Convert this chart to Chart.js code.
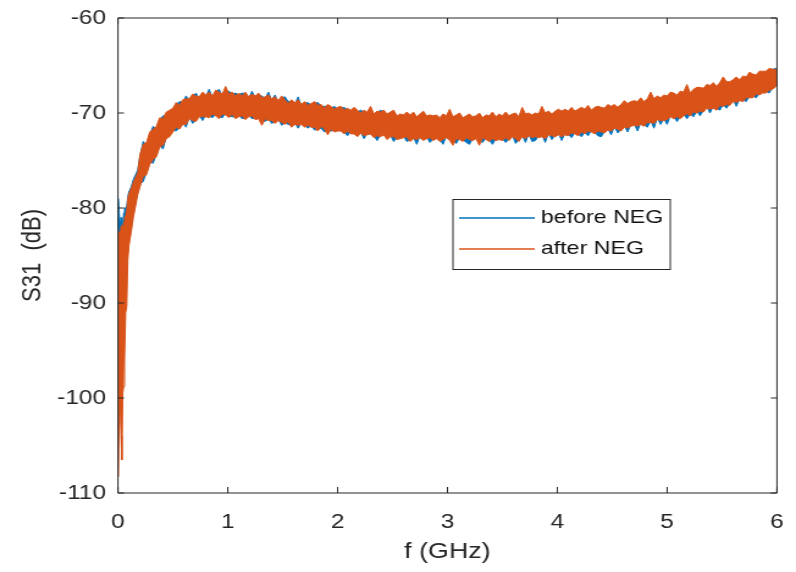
<!DOCTYPE html>
<html>
<head>
<meta charset="utf-8">
<script src="https://cdn.jsdelivr.net/npm/chart.js@4.4.1/dist/chart.umd.min.js"></script>
<style>
  html, body { margin: 0; padding: 0; background: #fff; overflow: hidden; }
  #wrap { width: 796px; height: 572px; overflow: hidden; }
  /* the reference figure is stretched sideways, so the canvas is too */
  #plot { display: block; transform: scale(1.2209, 1); transform-origin: 0 0; }
</style>
</head>
<body>
<div id="wrap"><canvas id="plot" width="652" height="572"></canvas></div>
<script>
// frequency grid (GHz)
const freqGHz = [
  0.004,0.012,0.02,0.028,0.036,0.044,0.052,0.06,0.07,0.08,0.09,0.1,0.12,0.14,0.16,0.18,
  0.2,0.23,0.26,0.29,0.32,0.35,0.38,0.41,0.44,0.47,
  0.5,0.53,0.56,0.59,0.62,0.65,0.68,0.71,0.74,0.77,
  0.8,0.83,0.86,0.89,0.92,0.95,0.98,1.01,1.04,1.07,
  1.1,1.13,1.16,1.19,1.22,1.25,1.28,1.31,1.34,1.37,
  1.4,1.43,1.46,1.49,1.52,1.55,1.58,1.61,1.64,1.67,
  1.7,1.73,1.76,1.79,1.82,1.85,1.88,1.91,1.94,1.97,
  2,2.03,2.06,2.09,2.12,2.15,2.18,2.21,2.24,2.27,
  2.3,2.33,2.36,2.39,2.42,2.45,2.48,2.51,2.54,2.57,
  2.6,2.63,2.66,2.69,2.72,2.75,2.78,2.81,2.84,2.87,
  2.9,2.93,2.96,2.99,3.02,3.05,3.08,3.11,3.14,3.17,
  3.2,3.23,3.26,3.29,3.32,3.35,3.38,3.41,3.44,3.47,
  3.5,3.53,3.56,3.59,3.62,3.65,3.68,3.71,3.74,3.77,
  3.8,3.83,3.86,3.89,3.92,3.95,3.98,4.01,4.04,4.07,
  4.1,4.13,4.16,4.19,4.22,4.25,4.28,4.31,4.34,4.37,
  4.4,4.43,4.46,4.49,4.52,4.55,4.58,4.61,4.64,4.67,
  4.7,4.73,4.76,4.79,4.82,4.85,4.88,4.91,4.94,4.97,
  5,5.03,5.06,5.09,5.12,5.15,5.18,5.21,5.24,5.27,
  5.3,5.33,5.36,5.39,5.42,5.45,5.48,5.51,5.54,5.57,
  5.6,5.63,5.66,5.69,5.72,5.75,5.78,5.81,5.84,5.87,
  5.9,5.93,5.96,5.99,6
];

// the noisy traces are kept as upper / lower envelopes (dB)
const beforeHi = [
  -79.0,-80.5,-82.0,-81.0,-81.5,-82.0,-80.5,-80.0,-80.0,-79.8,-78.8,-78.3,-77.8,-77.0,-76.5,-76.0,
  -74.6,-73.0,-73.4,-72.3,-71.4,-71.7,-70.8,-70.3,-70.2,-69.9,
  -69.7,-69.1,-68.8,-68.9,-68.2,-68.7,-68.3,-67.9,-68.5,-68.0,
  -68.3,-67.5,-68.4,-67.8,-67.5,-68.2,-67.7,-67.7,-68.0,-67.9,
  -68.1,-67.9,-68.0,-68.5,-67.7,-68.4,-68.1,-68.2,-68.5,-67.8,
  -68.7,-68.1,-68.9,-68.4,-68.3,-68.8,-68.8,-69.1,-68.3,-69.3,
  -69.0,-68.9,-69.2,-69.0,-68.9,-69.3,-69.3,-69.3,-69.5,-69.3,
  -69.6,-69.5,-69.4,-69.7,-69.9,-69.6,-69.9,-69.7,-69.9,-70.1,
  -69.8,-70.3,-70.0,-69.7,-69.9,-70.3,-70.1,-69.9,-70.5,-70.3,
  -70.4,-70.1,-70.4,-70.1,-70.6,-70.3,-70.0,-70.5,-70.4,-70.5,
  -70.4,-70.7,-70.3,-70.5,-70.1,-70.6,-70.4,-70.2,-70.7,-70.5,
  -70.3,-70.6,-70.5,-70.2,-70.7,-70.4,-70.5,-70.1,-70.6,-70.3,
  -70.5,-70.1,-70.5,-70.3,-70.2,-70.6,-69.9,-70.3,-70.2,-70.4,
  -70.2,-70.3,-69.8,-70.2,-70.0,-70.3,-70.0,-69.8,-70.0,-69.8,
  -70.0,-69.6,-70.0,-69.8,-69.6,-69.8,-69.4,-69.9,-69.6,-69.5,
  -69.6,-69.7,-69.3,-69.5,-69.3,-69.6,-69.3,-68.9,-69.2,-69.0,
  -68.9,-69.0,-68.6,-69.0,-68.7,-68.3,-68.7,-68.4,-68.6,-68.3,
  -68.4,-68.0,-68.1,-68.3,-67.9,-68.0,-67.5,-68.1,-67.7,-67.5,
  -67.5,-67.6,-67.2,-67.3,-67.0,-67.4,-67.0,-66.8,-66.9,-66.9,
  -66.7,-66.4,-66.7,-66.3,-66.4,-65.9,-66.1,-66.2,-65.8,-65.8,
  -65.8,-65.5,-65.4,-65.3,-65.4
];
const beforeLo = [
  -103.0,-102.8,-96.0,-98.8,-97.0,-95.0,-93.0,-89.0,-87.5,-86.0,-84.5,-83.0,-82.0,-80.5,-79.5,-78.3,
  -77.5,-77.2,-76.2,-75.1,-75.3,-74.3,-73.4,-73.8,-72.5,-72.3,
  -71.8,-71.9,-71.5,-71.0,-71.5,-70.4,-71.1,-70.7,-70.2,-70.8,
  -70.2,-70.3,-70.5,-70.1,-70.4,-70.5,-70.0,-70.3,-70.4,-70.4,
  -70.2,-70.6,-70.5,-70.2,-70.6,-70.5,-70.4,-70.8,-70.9,-70.6,
  -71.1,-70.9,-70.6,-71.3,-71.0,-71.2,-71.3,-71.0,-71.6,-71.0,
  -71.3,-71.6,-71.3,-71.8,-71.7,-71.6,-72.0,-71.8,-71.9,-71.8,
  -71.7,-71.6,-72.0,-72.4,-71.9,-72.0,-72.3,-72.0,-72.7,-72.1,
  -72.0,-72.4,-72.9,-72.3,-72.1,-72.6,-72.3,-73.0,-72.6,-72.5,
  -72.4,-73.0,-72.8,-72.5,-73.3,-72.4,-72.7,-72.5,-73.1,-72.7,
  -72.5,-72.8,-73.3,-72.4,-72.7,-72.9,-73.2,-72.6,-72.8,-73.1,
  -73.3,-72.7,-72.5,-72.9,-73.1,-72.6,-72.8,-73.3,-72.7,-72.6,
  -72.7,-73.1,-72.7,-72.3,-73.2,-72.8,-72.3,-73.1,-72.2,-73.0,
  -72.9,-72.4,-72.3,-73.1,-72.1,-72.8,-72.3,-72.1,-72.9,-72.1,
  -72.2,-72.6,-72.0,-72.2,-72.5,-72.0,-72.4,-71.8,-72.0,-72.4,
  -72.5,-71.9,-71.6,-72.3,-71.4,-72.1,-71.7,-71.3,-72.0,-71.2,
  -71.1,-71.9,-71.0,-71.2,-71.5,-70.8,-71.6,-70.5,-71.2,-70.6,
  -71.2,-70.2,-70.4,-70.9,-70.4,-70.1,-70.6,-70.1,-70.4,-69.8,
  -70.3,-69.7,-69.3,-70.0,-69.3,-69.5,-69.7,-69.1,-69.5,-69.0,
  -68.6,-69.3,-68.5,-68.6,-68.8,-68.2,-68.2,-68.4,-67.9,-67.7,
  -67.7,-67.9,-67.3,-67.0,-66.9
];
const afterHi = [
  -83.0,-82.5,-82.8,-82.0,-81.8,-82.3,-81.5,-81.0,-80.8,-80.2,-79.0,-78.5,-78.0,-77.3,-76.8,-76.3,
  -74.4,-73.3,-73.1,-72.0,-71.7,-71.4,-70.5,-70.6,-69.9,-69.7,
  -69.5,-68.9,-69.2,-68.6,-68.5,-68.5,-68.0,-68.2,-68.3,-67.8,
  -68.1,-67.8,-68.2,-67.6,-67.8,-68.0,-67.2,-68.0,-67.8,-68.2,
  -67.9,-68.2,-67.8,-68.3,-68.0,-68.2,-67.9,-68.4,-68.3,-68.1,
  -68.5,-68.3,-68.7,-68.2,-68.6,-69.0,-68.6,-68.9,-68.6,-69.1,
  -68.8,-69.2,-69.0,-68.8,-69.2,-69.1,-69.5,-69.1,-69.3,-69.6,
  -69.4,-69.3,-69.7,-69.5,-69.7,-69.4,-69.7,-70.0,-69.7,-69.9,
  -69.3,-70.1,-69.8,-69.9,-69.7,-70.1,-69.9,-69.7,-70.3,-70.1,
  -70.2,-69.9,-70.2,-69.9,-70.4,-70.1,-69.8,-70.3,-70.2,-70.3,
  -70.2,-70.5,-70.1,-70.3,-69.6,-70.4,-70.2,-70.0,-70.5,-70.3,
  -70.1,-70.4,-70.3,-70.0,-70.5,-70.2,-70.3,-69.9,-70.4,-70.1,
  -70.3,-69.9,-70.3,-70.1,-70.0,-70.4,-69.4,-70.1,-70.0,-70.2,
  -70.0,-70.1,-69.3,-70.0,-69.8,-70.1,-69.8,-69.6,-69.8,-69.6,
  -69.8,-69.4,-69.8,-69.6,-69.4,-69.6,-69.2,-69.7,-69.4,-69.3,
  -69.4,-69.5,-69.1,-69.3,-69.1,-69.4,-69.1,-68.7,-69.0,-68.8,
  -68.7,-68.8,-68.4,-68.8,-68.5,-67.8,-68.5,-68.2,-68.4,-68.1,
  -68.2,-67.8,-67.9,-68.1,-67.7,-67.8,-67.0,-67.9,-67.5,-67.3,
  -67.3,-67.4,-67.0,-67.1,-66.8,-67.2,-66.8,-66.2,-66.7,-66.7,
  -66.5,-66.2,-66.5,-66.1,-66.2,-65.7,-65.9,-66.0,-65.6,-65.6,
  -65.6,-65.3,-65.4,-65.4,-65.4
];
const afterLo = [
  -108.3,-101.5,-100.5,-104.0,-106.5,-99.5,-98.8,-96.0,-91.0,-90.4,-85.5,-84.0,-82.6,-81.0,-79.8,-78.6,
  -77.8,-76.7,-76.5,-75.4,-74.9,-74.6,-73.6,-73.4,-72.7,-72.5,
  -72.0,-71.5,-71.7,-71.2,-71.2,-70.6,-70.8,-70.9,-70.4,-70.4,
  -70.4,-70.5,-70.1,-70.3,-70.6,-70.1,-70.2,-70.5,-70.1,-70.6,
  -70.4,-70.3,-70.7,-70.4,-70.3,-70.7,-70.6,-71.3,-70.6,-70.8,
  -70.8,-71.1,-70.8,-71.0,-71.2,-70.9,-71.5,-71.2,-71.3,-71.2,
  -71.5,-71.3,-71.5,-71.5,-71.9,-71.4,-71.7,-72.3,-71.7,-72.0,
  -71.9,-71.9,-72.2,-71.9,-72.2,-72.2,-72.5,-72.1,-72.4,-72.3,
  -72.2,-72.6,-72.4,-72.5,-72.3,-72.8,-72.5,-72.5,-72.8,-72.7,
  -72.6,-72.5,-73.0,-72.7,-72.8,-72.6,-72.9,-72.7,-72.6,-72.9,
  -72.7,-73.0,-72.8,-72.6,-72.9,-73.4,-72.7,-72.8,-73.0,-72.6,
  -72.8,-72.9,-72.7,-73.4,-72.6,-72.8,-73.0,-72.7,-72.9,-72.8,
  -72.9,-72.6,-72.9,-72.5,-72.7,-73.0,-72.5,-72.7,-72.4,-72.6,
  -72.5,-72.6,-72.5,-72.7,-72.3,-72.4,-72.5,-72.3,-72.5,-72.3,
  -72.4,-72.1,-72.2,-72.4,-72.0,-72.2,-71.9,-72.0,-72.2,-71.9,
  -72.0,-72.1,-71.8,-71.9,-71.6,-71.7,-71.9,-71.5,-71.6,-71.4,
  -71.3,-71.4,-71.2,-71.4,-71.0,-71.0,-71.1,-70.7,-70.8,-70.8,
  -70.7,-70.4,-70.6,-70.4,-70.6,-70.3,-70.1,-70.3,-69.9,-70.0,
  -69.8,-69.9,-69.5,-69.6,-69.5,-69.7,-69.2,-69.3,-69.1,-69.2,
  -68.8,-68.9,-68.7,-68.8,-68.4,-68.4,-68.4,-68.0,-68.1,-67.9,
  -67.9,-67.6,-67.5,-67.2,-67.0
];

const xTicks = [0, 1, 2, 3, 4, 5, 6];
const yTicks = [-110, -100, -90, -80, -70, -60];
const seriesNames = ['before NEG', 'after NEG'];

const BLUE = '#0072BD';
const ORANGE = '#D95319';
const AXIS = '#262626';
const FONT = "'Liberation Sans', Arial, Helvetica, sans-serif";

const pts = arr => freqGHz.map((f, i) => ({ x: f, y: arr[i] }));

// box, inward ticks on all four sides and the in-plot legend (MATLAB look)
const matlabAxes = {
  id: 'matlabAxes',
  afterDatasetsDraw(chart) {
    const { ctx, chartArea: a, scales: { x, y } } = chart;
    ctx.save();
    ctx.strokeStyle = AXIS;
    ctx.lineWidth = 1;
    ctx.beginPath();
    ctx.rect(a.left, a.top, a.right - a.left, a.bottom - a.top);
    xTicks.forEach(v => {
      const px = x.getPixelForValue(v);
      ctx.moveTo(px, a.bottom); ctx.lineTo(px, a.bottom - 6);
      ctx.moveTo(px, a.top); ctx.lineTo(px, a.top + 6);
    });
    yTicks.forEach(v => {
      const py = y.getPixelForValue(v);
      ctx.moveTo(a.left, py); ctx.lineTo(a.left + 5, py);
      ctx.moveTo(a.right, py); ctx.lineTo(a.right - 5, py);
    });
    ctx.stroke();

    // legend
    const lx = 371, ly = 199.5, lw = 178, lh = 70;
    ctx.fillStyle = '#fff';
    ctx.fillRect(lx, ly, lw, lh);
    ctx.strokeRect(lx, ly, lw, lh);
    const rows = [[BLUE, 218], [ORANGE, 249]];
    ctx.font = '19px ' + FONT;
    ctx.textBaseline = 'middle';
    ctx.textAlign = 'left';
    rows.forEach(([c, ry], i) => {
      ctx.strokeStyle = c;
      ctx.lineWidth = 1.5;
      ctx.beginPath();
      ctx.moveTo(376, ry); ctx.lineTo(438, ry);
      ctx.stroke();
      ctx.fillStyle = '#111';
      ctx.fillText(seriesNames[i], 443, ry);
    });
    ctx.restore();
  }
};

const band = (arr, color, fill, order) => ({
  data: pts(arr),
  borderColor: color,
  backgroundColor: color,
  borderWidth: 1,
  pointRadius: 0,
  tension: 0,
  fill: fill,
  order: order
});

new Chart(document.getElementById('plot'), {
  type: 'line',
  data: {
    datasets: [
      band(afterHi, ORANGE, '+1', 0),
      band(afterLo, ORANGE, false, 0),
      band(beforeHi, BLUE, '+1', 1),
      band(beforeLo, BLUE, false, 1)
    ]
  },
  options: {
    responsive: false,
    devicePixelRatio: 1,
    animation: false,
    events: [],
    layout: { padding: { left: 0, right: 15.6, top: 18, bottom: 0 } },
    font: { family: FONT },
    plugins: { legend: { display: false }, tooltip: { enabled: false } },
    scales: {
      x: {
        type: 'linear', min: 0, max: 6,
        grid: { display: false, drawTicks: true, tickLength: 17 },
        border: { display: false },
        ticks: { stepSize: 1, padding: 0, color: AXIS, font: { family: FONT, size: 20 } },
        title: { display: true, text: 'f (GHz)', color: AXIS, font: { family: FONT, size: 22 }, padding: { top: 0, bottom: 6.8 } },
        afterFit(s) { s.height = 79; }
      },
      y: {
        type: 'linear', min: -110, max: -60,
        grid: { display: false, drawTicks: true, tickLength: 9.8 },
        border: { display: false },
        ticks: { stepSize: 10, padding: 0, color: AXIS, font: { family: FONT, size: 20 } },
        title: { display: true, text: 'S31  (dB)', color: AXIS, font: { family: FONT, size: 22 }, padding: { top: 13.8, bottom: 0 } },
        afterFit(s) { s.width = 96.6; }
      }
    }
  },
  plugins: [matlabAxes]
});
</script>
</body>
</html>
